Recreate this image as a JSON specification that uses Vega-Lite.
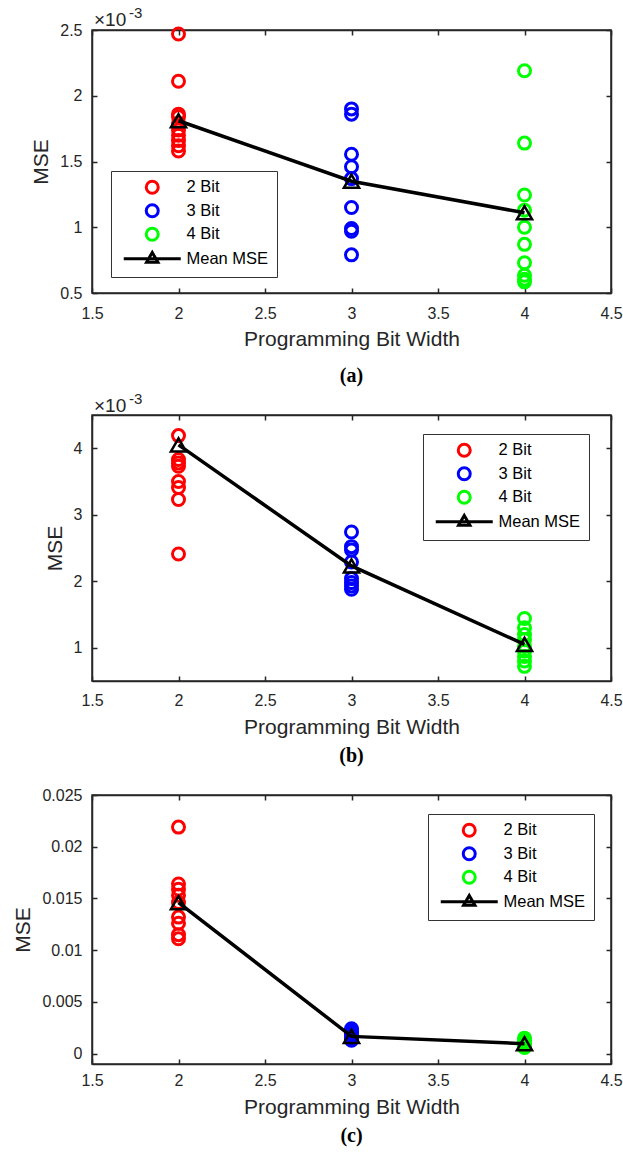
{
  "$schema": "https://vega.github.io/schema/vega-lite/v6.json",
  "autosize": {"type": "pad"},
  "padding": {"left": 12, "top": 5, "right": 5, "bottom": 5},
  "background": "white",
  "config": {
    "font": "Liberation Sans",
    "view": {"stroke": "#262626", "strokeWidth": 1.5},
    "axis": {"grid": false, "domainColor": "#262626", "domainWidth": 1.5, "tickColor": "#262626", "tickWidth": 1.5, "tickSize": -5, "labelPadding": 17, "labelFont": "Liberation Sans", "labelFontSize": 16, "labelColor": "#262626", "titleFont": "Liberation Sans", "titleFontSize": 21, "titleFontWeight": "normal", "titleColor": "#262626", "titlePadding": 8, "labelFlush": false, "labelOverlap": false, "labelAngle": 0},
    "axisLeft": {"labelPadding": 15, "titlePadding": 8},
    "legend": {"strokeColor": "#333333", "fillColor": "white", "padding": 8, "labelFont": "Liberation Sans", "labelFontSize": 16.5, "labelColor": "#000000", "symbolSize": 144, "symbolStrokeWidth": 3, "rowPadding": -1.5, "symbolOffset": 25, "labelOffset": 26, "orient": "none", "cornerRadius": 0, "strokeWidth": 1},
    "title": {"font": "Liberation Serif", "fontWeight": "bold", "fontSize": 20, "color": "#000000"}
  },
  "spacing": 122,
  "bounds": "flush",
  "resolve": {"scale": {"color": "independent", "shape": "independent"}, "legend": {"color": "independent", "shape": "independent"}},
  "vconcat": [
    {
      "width": 519, "height": 263,
      "title": {"text": "(a)", "orient": "bottom", "offset": 17, "frame": "group", "anchor": "middle"},
      "resolve": {"axis": {"x": "independent", "y": "independent"}},
      "layer": [
        {
          "data": {"values": [
            {"bits": 2, "mse": 0.00247, "group": "2 Bit"},
            {"bits": 2, "mse": 0.00211, "group": "2 Bit"},
            {"bits": 2, "mse": 0.00186, "group": "2 Bit"},
            {"bits": 2, "mse": 0.00184, "group": "2 Bit"},
            {"bits": 2, "mse": 0.00179, "group": "2 Bit"},
            {"bits": 2, "mse": 0.00174, "group": "2 Bit"},
            {"bits": 2, "mse": 0.00170, "group": "2 Bit"},
            {"bits": 2, "mse": 0.00166, "group": "2 Bit"},
            {"bits": 2, "mse": 0.00162, "group": "2 Bit"},
            {"bits": 2, "mse": 0.00158, "group": "2 Bit"},
            {"bits": 3, "mse": 0.00190, "group": "3 Bit"},
            {"bits": 3, "mse": 0.00186, "group": "3 Bit"},
            {"bits": 3, "mse": 0.001555, "group": "3 Bit"},
            {"bits": 3, "mse": 0.00146, "group": "3 Bit"},
            {"bits": 3, "mse": 0.00137, "group": "3 Bit"},
            {"bits": 3, "mse": 0.00115, "group": "3 Bit"},
            {"bits": 3, "mse": 0.00099, "group": "3 Bit"},
            {"bits": 3, "mse": 0.00097, "group": "3 Bit"},
            {"bits": 3, "mse": 0.00079, "group": "3 Bit"},
            {"bits": 4, "mse": 0.00219, "group": "4 Bit"},
            {"bits": 4, "mse": 0.00164, "group": "4 Bit"},
            {"bits": 4, "mse": 0.001245, "group": "4 Bit"},
            {"bits": 4, "mse": 0.00113, "group": "4 Bit"},
            {"bits": 4, "mse": 0.00100, "group": "4 Bit"},
            {"bits": 4, "mse": 0.00087, "group": "4 Bit"},
            {"bits": 4, "mse": 0.00073, "group": "4 Bit"},
            {"bits": 4, "mse": 0.000635, "group": "4 Bit"},
            {"bits": 4, "mse": 0.000605, "group": "4 Bit"},
            {"bits": 4, "mse": 0.000585, "group": "4 Bit"}
          ]},
          "mark": {"type": "point", "filled": false, "size": 144, "strokeWidth": 3, "opacity": 1},
          "encoding": {
            "x": {"field": "bits", "type": "quantitative", "scale": {"domain": [1.5, 4.5], "nice": false, "zero": false}, "axis": {"orient": "bottom", "values": [1.5, 2, 2.5, 3, 3.5, 4, 4.5], "labelExpr": "format(datum.value, '~g')", "title": "Programming Bit Width", "titlePadding": 7}},
            "y": {"field": "mse", "type": "quantitative", "scale": {"domain": [0.0005, 0.0025], "nice": false, "zero": false}, "axis": {"orient": "left", "values": [0.0005, 0.001, 0.0015, 0.002, 0.0025], "labelExpr": "format(datum.value*1000, '.3~g')", "title": "MSE"}},
            "color": {"field": "group", "type": "nominal", "scale": {"domain": ["2 Bit", "3 Bit", "4 Bit", "Mean MSE"], "range": ["#ff0000", "#0000ff", "#00ff00", "#000000"]}, "legend": {"title": null, "orient": "none", "legendX": 19, "legendY": 141}},
            "shape": {"field": "group", "type": "nominal", "scale": {"domain": ["2 Bit", "3 Bit", "4 Bit", "Mean MSE"], "range": ["circle", "circle", "circle", "M-4.75,0H4.75M0,-1.05L0.95,0.6L-0.95,0.6Z"]}, "legend": {"title": null, "orient": "none", "legendX": 19, "legendY": 141}}
          }
        },
        {
          "data": {"values": [
            {"bits": 2, "mse": 0.00181},
            {"bits": 3, "mse": 0.00135},
            {"bits": 4, "mse": 0.00111}
          ]},
          "mark": {"type": "line", "color": "#000000", "strokeWidth": 3.5, "point": {"shape": "triangle-up", "filled": false, "size": 230, "strokeWidth": 2.5, "color": "#000000", "opacity": 1}},
          "encoding": {
            "x": {"field": "bits", "type": "quantitative", "scale": {"domain": [1.5, 4.5], "nice": false, "zero": false}, "axis": {"orient": "top", "values": [1.5, 2, 2.5, 3, 3.5, 4, 4.5], "labels": false, "title": null}},
            "y": {"field": "mse", "type": "quantitative", "scale": {"domain": [0.0005, 0.0025], "nice": false, "zero": false}, "axis": {"orient": "right", "values": [0.0005, 0.001, 0.0015, 0.002, 0.0025], "labels": false, "title": null}}
          }
        },
        {
          "data": {"values": [{"label": "×10", "bits": 1.5, "mse": 0.0025}]},
          "mark": {"type": "text", "align": "left", "baseline": "middle", "dx": 2, "dy": -10, "fontSize": 19, "color": "#262626", "font": "Liberation Sans"},
          "encoding": {
            "x": {"field": "bits", "type": "quantitative", "scale": {"domain": [1.5, 4.5], "nice": false, "zero": false}, "axis": null},
            "y": {"field": "mse", "type": "quantitative", "scale": {"domain": [0.0005, 0.0025], "nice": false, "zero": false}, "axis": null},
            "text": {"field": "label"}
          }
        },
        {
          "data": {"values": [{"label": "-3", "bits": 1.5, "mse": 0.0025}]},
          "mark": {"type": "text", "align": "left", "baseline": "middle", "dx": 37, "dy": -17, "fontSize": 15, "color": "#262626", "font": "Liberation Sans"},
          "encoding": {
            "x": {"field": "bits", "type": "quantitative", "scale": {"domain": [1.5, 4.5], "nice": false, "zero": false}, "axis": null},
            "y": {"field": "mse", "type": "quantitative", "scale": {"domain": [0.0005, 0.0025], "nice": false, "zero": false}, "axis": null},
            "text": {"field": "label"}
          }
        }
      ]
    },
    {
      "spacing": 114,
      "bounds": "flush",
      "resolve": {"scale": {"color": "independent", "shape": "independent"}, "legend": {"color": "independent", "shape": "independent"}},
      "vconcat": [
        {
          "width": 519, "height": 266,
          "title": {"text": "(b)", "orient": "bottom", "offset": 9, "frame": "group", "anchor": "middle"},
          "resolve": {"axis": {"x": "independent", "y": "independent"}},
          "layer": [
            {
              "data": {"values": [
                {"bits": 2, "mse": 0.00419, "group": "2 Bit"},
                {"bits": 2, "mse": 0.00383, "group": "2 Bit"},
                {"bits": 2, "mse": 0.00378, "group": "2 Bit"},
                {"bits": 2, "mse": 0.00373, "group": "2 Bit"},
                {"bits": 2, "mse": 0.00350, "group": "2 Bit"},
                {"bits": 2, "mse": 0.00341, "group": "2 Bit"},
                {"bits": 2, "mse": 0.00323, "group": "2 Bit"},
                {"bits": 2, "mse": 0.00241, "group": "2 Bit"},
                {"bits": 3, "mse": 0.00274, "group": "3 Bit"},
                {"bits": 3, "mse": 0.00252, "group": "3 Bit"},
                {"bits": 3, "mse": 0.00247, "group": "3 Bit"},
                {"bits": 3, "mse": 0.00229, "group": "3 Bit"},
                {"bits": 3, "mse": 0.00204, "group": "3 Bit"},
                {"bits": 3, "mse": 0.00198, "group": "3 Bit"},
                {"bits": 3, "mse": 0.00193, "group": "3 Bit"},
                {"bits": 3, "mse": 0.00188, "group": "3 Bit"},
                {"bits": 4, "mse": 0.00144, "group": "4 Bit"},
                {"bits": 4, "mse": 0.00130, "group": "4 Bit"},
                {"bits": 4, "mse": 0.00120, "group": "4 Bit"},
                {"bits": 4, "mse": 0.00112, "group": "4 Bit"},
                {"bits": 4, "mse": 0.00102, "group": "4 Bit"},
                {"bits": 4, "mse": 0.00095, "group": "4 Bit"},
                {"bits": 4, "mse": 0.00087, "group": "4 Bit"},
                {"bits": 4, "mse": 0.00080, "group": "4 Bit"},
                {"bits": 4, "mse": 0.00072, "group": "4 Bit"}
              ]},
              "mark": {"type": "point", "filled": false, "size": 144, "strokeWidth": 3, "opacity": 1},
              "encoding": {
                "x": {"field": "bits", "type": "quantitative", "scale": {"domain": [1.5, 4.5], "nice": false, "zero": false}, "axis": {"orient": "bottom", "values": [1.5, 2, 2.5, 3, 3.5, 4, 4.5], "labelExpr": "format(datum.value, '~g')", "title": "Programming Bit Width", "labelPadding": 16}},
                "y": {"field": "mse", "type": "quantitative", "scale": {"domain": [0.0005, 0.0045], "nice": false, "zero": false}, "axis": {"orient": "left", "values": [0.001, 0.002, 0.003, 0.004], "labelExpr": "format(datum.value*1000, '.3~g')", "title": "MSE"}},
                "color": {"field": "group", "type": "nominal", "scale": {"domain": ["2 Bit", "3 Bit", "4 Bit", "Mean MSE"], "range": ["#ff0000", "#0000ff", "#00ff00", "#000000"]}, "legend": {"title": null, "orient": "none", "legendX": 331, "legendY": 19}},
                "shape": {"field": "group", "type": "nominal", "scale": {"domain": ["2 Bit", "3 Bit", "4 Bit", "Mean MSE"], "range": ["circle", "circle", "circle", "M-4.75,0H4.75M0,-1.05L0.95,0.6L-0.95,0.6Z"]}, "legend": {"title": null, "orient": "none", "legendX": 331, "legendY": 19}}
              }
            },
            {
              "data": {"values": [
                {"bits": 2, "mse": 0.00405},
                {"bits": 3, "mse": 0.00223},
                {"bits": 4, "mse": 0.00105}
              ]},
              "mark": {"type": "line", "color": "#000000", "strokeWidth": 3.5, "point": {"shape": "triangle-up", "filled": false, "size": 230, "strokeWidth": 2.5, "color": "#000000", "opacity": 1}},
              "encoding": {
                "x": {"field": "bits", "type": "quantitative", "scale": {"domain": [1.5, 4.5], "nice": false, "zero": false}, "axis": {"orient": "top", "values": [1.5, 2, 2.5, 3, 3.5, 4, 4.5], "labels": false, "title": null}},
                "y": {"field": "mse", "type": "quantitative", "scale": {"domain": [0.0005, 0.0045], "nice": false, "zero": false}, "axis": {"orient": "right", "values": [0.001, 0.002, 0.003, 0.004], "labels": false, "title": null}}
              }
            },
            {
              "data": {"values": [{"label": "×10", "bits": 1.5, "mse": 0.0045}]},
              "mark": {"type": "text", "align": "left", "baseline": "middle", "dx": 2, "dy": -9, "fontSize": 19, "color": "#262626", "font": "Liberation Sans"},
              "encoding": {
                "x": {"field": "bits", "type": "quantitative", "scale": {"domain": [1.5, 4.5], "nice": false, "zero": false}, "axis": null},
                "y": {"field": "mse", "type": "quantitative", "scale": {"domain": [0.0005, 0.0045], "nice": false, "zero": false}, "axis": null},
                "text": {"field": "label"}
              }
            },
            {
              "data": {"values": [{"label": "-3", "bits": 1.5, "mse": 0.0045}]},
              "mark": {"type": "text", "align": "left", "baseline": "middle", "dx": 37, "dy": -16, "fontSize": 15, "color": "#262626", "font": "Liberation Sans"},
              "encoding": {
                "x": {"field": "bits", "type": "quantitative", "scale": {"domain": [1.5, 4.5], "nice": false, "zero": false}, "axis": null},
                "y": {"field": "mse", "type": "quantitative", "scale": {"domain": [0.0005, 0.0045], "nice": false, "zero": false}, "axis": null},
                "text": {"field": "label"}
              }
            }
          ]
        },
        {
          "width": 519, "height": 269,
          "title": {"text": "(c)", "orient": "bottom", "offset": 9, "frame": "group", "anchor": "middle"},
          "resolve": {"axis": {"x": "independent", "y": "independent"}},
          "layer": [
            {
              "data": {"values": [
                {"bits": 2, "mse": 0.0219, "group": "2 Bit"},
                {"bits": 2, "mse": 0.0164, "group": "2 Bit"},
                {"bits": 2, "mse": 0.0159, "group": "2 Bit"},
                {"bits": 2, "mse": 0.0153, "group": "2 Bit"},
                {"bits": 2, "mse": 0.0146, "group": "2 Bit"},
                {"bits": 2, "mse": 0.0132, "group": "2 Bit"},
                {"bits": 2, "mse": 0.0126, "group": "2 Bit"},
                {"bits": 2, "mse": 0.0115, "group": "2 Bit"},
                {"bits": 2, "mse": 0.0111, "group": "2 Bit"},
                {"bits": 3, "mse": 0.0024, "group": "3 Bit"},
                {"bits": 3, "mse": 0.0022, "group": "3 Bit"},
                {"bits": 3, "mse": 0.0020, "group": "3 Bit"},
                {"bits": 3, "mse": 0.0018, "group": "3 Bit"},
                {"bits": 3, "mse": 0.0016, "group": "3 Bit"},
                {"bits": 3, "mse": 0.0014, "group": "3 Bit"},
                {"bits": 3, "mse": 0.0013, "group": "3 Bit"},
                {"bits": 4, "mse": 0.0015, "group": "4 Bit"},
                {"bits": 4, "mse": 0.0013, "group": "4 Bit"},
                {"bits": 4, "mse": 0.0011, "group": "4 Bit"},
                {"bits": 4, "mse": 0.0009, "group": "4 Bit"},
                {"bits": 4, "mse": 0.0008, "group": "4 Bit"},
                {"bits": 4, "mse": 0.0006, "group": "4 Bit"}
              ]},
              "mark": {"type": "point", "filled": false, "size": 144, "strokeWidth": 3, "opacity": 1},
              "encoding": {
                "x": {"field": "bits", "type": "quantitative", "scale": {"domain": [1.5, 4.5], "nice": false, "zero": false}, "axis": {"orient": "bottom", "values": [1.5, 2, 2.5, 3, 3.5, 4, 4.5], "labelExpr": "format(datum.value, '~g')", "title": "Programming Bit Width", "labelPadding": 13}},
                "y": {"field": "mse", "type": "quantitative", "scale": {"domain": [-0.001, 0.025], "nice": false, "zero": false}, "axis": {"orient": "left", "values": [0, 0.005, 0.01, 0.015, 0.02, 0.025], "labelExpr": "format(datum.value, '.3~g')", "title": "MSE"}},
                "color": {"field": "group", "type": "nominal", "scale": {"domain": ["2 Bit", "3 Bit", "4 Bit", "Mean MSE"], "range": ["#ff0000", "#0000ff", "#00ff00", "#000000"]}, "legend": {"title": null, "orient": "none", "legendX": 336, "legendY": 19}},
                "shape": {"field": "group", "type": "nominal", "scale": {"domain": ["2 Bit", "3 Bit", "4 Bit", "Mean MSE"], "range": ["circle", "circle", "circle", "M-4.75,0H4.75M0,-1.05L0.95,0.6L-0.95,0.6Z"]}, "legend": {"title": null, "orient": "none", "legendX": 336, "legendY": 19}}
              }
            },
            {
              "data": {"values": [
                {"bits": 2, "mse": 0.0146},
                {"bits": 3, "mse": 0.00167},
                {"bits": 4, "mse": 0.00096}
              ]},
              "mark": {"type": "line", "color": "#000000", "strokeWidth": 3.5, "point": {"shape": "triangle-up", "filled": false, "size": 230, "strokeWidth": 2.5, "color": "#000000", "opacity": 1}},
              "encoding": {
                "x": {"field": "bits", "type": "quantitative", "scale": {"domain": [1.5, 4.5], "nice": false, "zero": false}, "axis": {"orient": "top", "values": [1.5, 2, 2.5, 3, 3.5, 4, 4.5], "labels": false, "title": null}},
                "y": {"field": "mse", "type": "quantitative", "scale": {"domain": [-0.001, 0.025], "nice": false, "zero": false}, "axis": {"orient": "right", "values": [0, 0.005, 0.01, 0.015, 0.02, 0.025], "labels": false, "title": null}}
              }
            }
          ]
        }
      ]
    }
  ]
}
